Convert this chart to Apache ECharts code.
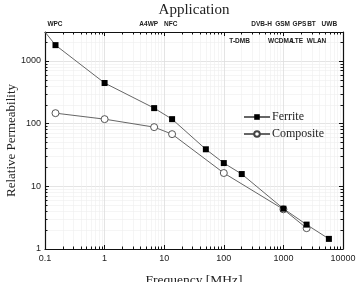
<!DOCTYPE html>
<html><head><meta charset="utf-8">
<script src="https://cdn.jsdelivr.net/npm/echarts@6/dist/echarts.min.js"></script>
<style>html,body{margin:0;padding:0;background:#fff}#c{width:356px;height:282px}</style>
</head><body><div id="c"></div><script>
// Data
const ferriteFreq = [0.1, 0.15, 1, 6.78, 13.56, 50, 100, 200, 1000, 2450, 5800];
const ferriteMu   = [2900, 1790, 445, 177, 118, 39, 23.5, 15.7, 4.4, 2.45, 1.45];
const compFreq = [0.15, 1, 6.78, 13.56, 100, 1000, 2450];
const compMu   = [147, 118, 88, 68, 16.3, 4.3, 2.15];
const appRow1 = ['WPC', 'A4WP', 'NFC', 'DVB-H', 'GSM', 'GPS', 'BT', 'UWB'];
const appRow1Freq = [0.147, 5.5, 12.9, 431, 970, 1860, 2960, 5900];
const appRow2 = ['T-DMB', 'WCDMA', 'LTE', 'WLAN'];
const appRow2Freq = [184, 905, 1700, 3600];
const xLabels = ['0.1', '1', '10', '100', '1000', '10000'];
const yLabels = ['1', '10', '100', '1000'];

const SERIF = '"Liberation Serif", "DejaVu Serif", serif';
const SANS = '"Liberation Sans", Arial, sans-serif';
const chart = echarts.init(document.getElementById('c'), null, {renderer: 'canvas'});

function isDecade(v){ const l = Math.log10(v); return Math.abs(l - Math.round(l)) < 1e-6; }

const axisCommon = {
  type: 'log', logBase: 10,
  axisLine: {show: true, onZero: false, lineStyle: {color: '#111', width: 1.2}},
  axisTick: {show: true, inside: true, length: 4, lineStyle: {color: '#111'}},
  minorTick: {show: true, splitNumber: 9, length: 2.5, lineStyle: {color: '#111'}},
  splitLine: {show: true, lineStyle: {color: '#ddd', width: 0.8}},
  minorSplitLine: {show: true, lineStyle: {color: '#eee', width: 0.6}}
};

const option = {
  animation: false,
  backgroundColor: '#fff',
  grid: {left: 45, right: 13, top: 32, bottom: 33, containLabel: false, outerBoundsMode: 'none'},
  xAxis: [
    Object.assign({}, axisCommon, {
      min: 0.1, max: 10000, position: 'bottom',
      name: 'Frequency [MHz]', nameLocation: 'middle', nameGap: 24, nameMoveOverlap: false,
      nameTextStyle: {fontFamily: SERIF, fontSize: 13.5, color: '#222'},
      axisLabel: {show: true, fontFamily: SANS, fontSize: 9, color: '#222', margin: 5,
        formatter: v => isDecade(v) ? xLabels[Math.round(Math.log10(v)) + 1] : ''}
    }),
    Object.assign({}, axisCommon, {
      min: 0.1, max: 10000, position: 'top',
      axisLabel: {show: false}, splitLine: {show: false}, minorSplitLine: {show: false}
    })
  ],
  yAxis: [
    Object.assign({}, axisCommon, {
      min: 1, max: 2900, position: 'left',
      name: 'Relative Permeability', nameLocation: 'middle', nameGap: 27, nameMoveOverlap: false,
      nameTextStyle: {fontFamily: SERIF, fontSize: 13, color: '#222', padding: [0, 0, 0, 0]},
      axisLabel: {show: true, fontFamily: SANS, fontSize: 9, color: '#222', margin: 4,
        formatter: v => isDecade(v) ? yLabels[Math.round(Math.log10(v))] : ''}
    }),
    Object.assign({}, axisCommon, {
      min: 1, max: 2900, position: 'right',
      axisLabel: {show: false}, splitLine: {show: false}, minorSplitLine: {show: false}
    })
  ],
  legend: {
    left: 238, top: 106, orient: 'vertical', itemGap: 5, itemWidth: 26, itemHeight: 7,
    textStyle: {fontFamily: SERIF, fontSize: 12, color: '#222', padding: [0, 0, 0, -3]},
    data: ['Ferrite', 'Composite']
  },
  series: [
    {
      name: 'Ferrite', type: 'line', xAxisIndex: 0, yAxisIndex: 0,
      data: ferriteFreq.map((f, i) => ({value: [f, ferriteMu[i]], symbolSize: i === 0 ? 0 : 6})),
      symbol: 'rect', symbolSize: 6,
      itemStyle: {color: '#000'},
      lineStyle: {color: '#666', width: 1}, z: 3
    },
    {
      name: 'Composite', type: 'line', xAxisIndex: 0, yAxisIndex: 0,
      data: compFreq.map((f, i) => [f, compMu[i]]),
      symbol: 'circle', symbolSize: 7,
      itemStyle: {color: '#fff', borderColor: '#444', borderWidth: 0.9},
      lineStyle: {color: '#666', width: 1}, z: 2
    }
  ]
};
chart.setOption(option);

// Application labels placed through the x scale
const g = [{type: 'text', x: 194, y: 10, style: {text: 'Application', font: '15px ' + SERIF, fill: '#222', textAlign: 'center', textVerticalAlign: 'middle'}}];
appRow1.forEach((t, i) => {
  const px = chart.convertToPixel({xAxisIndex: 0}, appRow1Freq[i]);
  g.push({type: 'text', x: px, y: 24, style: {text: t, font: 'bold 6.5px ' + SANS, fill: '#222', textAlign: 'center', textVerticalAlign: 'middle'}});
});
appRow2.forEach((t, i) => {
  const px = chart.convertToPixel({xAxisIndex: 0}, appRow2Freq[i]);
  g.push({type: 'text', x: px, y: 41, style: {text: t, font: 'bold 6.5px ' + SANS, fill: '#222', textAlign: 'center', textVerticalAlign: 'middle'}});
});
chart.setOption({graphic: g});
</script></body></html>
